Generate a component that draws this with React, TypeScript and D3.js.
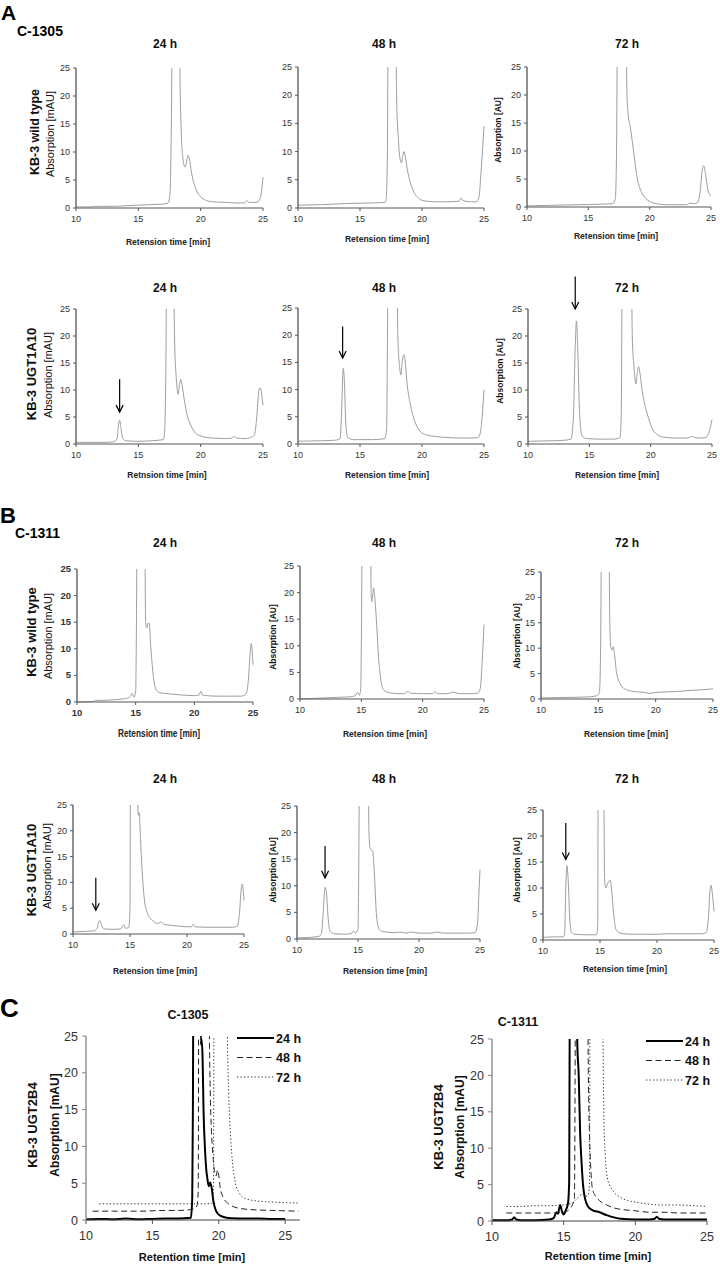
import React from 'react';
import * as d3 from 'd3';

type Pt = [number, number];

// ---------- Data: retention time [min], absorption ----------
const aWt24: Pt[] = [[10,0.2],[11,0.2],[12,0.3],[13,0.3],[14,0.4],[15,0.5],[16,0.6],[17,0.7],[17.4,0.9],[17.55,3],[17.65,15],[17.75,40],[18.25,40],[18.35,22],[18.45,13],[18.6,8.5],[18.75,7.3],[18.9,8.6],[19.0,9.4],[19.1,8.8],[19.25,6.5],[19.45,4.5],[19.7,3],[20,2],[20.4,1.4],[21,1.1],[22,1.0],[23,0.9],[23.5,0.9],[23.7,1.3],[23.9,1.0],[24.5,1.0],[24.7,1.4],[24.85,2.5],[25,5.5]];
const aWt48: Pt[] = [[10,0.5],[12,0.6],[14,0.8],[16,0.9],[17,1.0],[17.1,1.5],[17.2,8],[17.3,40],[17.85,40],[17.95,20],[18.1,12],[18.25,8.5],[18.35,8.0],[18.45,9.3],[18.55,10],[18.65,9.2],[18.8,7],[19.0,5],[19.3,3],[19.7,1.8],[20.1,1.3],[21,1.1],[22,1.1],[23,1.2],[23.15,1.8],[23.3,1.3],[24,1.1],[24.4,1.1],[24.6,2],[24.75,6],[24.9,11],[25,14.5]];
const aWt72: Pt[] = [[10,0.2],[12,0.3],[14,0.4],[16,0.5],[17.0,0.6],[17.2,1.5],[17.3,10],[17.4,40],[18.05,40],[18.15,20],[18.25,16.5],[18.4,14.5],[18.6,11.5],[18.8,8],[19.0,5],[19.3,2.8],[19.7,1.5],[20.2,0.8],[20.8,0.5],[21.5,0.4],[23,0.4],[23.3,0.7],[23.6,0.6],[23.9,0.8],[24.1,2.5],[24.3,6.8],[24.4,7.4],[24.55,6],[24.75,3],[25,2]];
const aUgt24: Pt[] = [[10,0.3],[12,0.3],[13,0.4],[13.3,1],[13.4,3.5],[13.5,4.4],[13.6,3],[13.75,1],[14,0.6],[15,0.5],[16,0.6],[17,0.8],[17.1,2],[17.2,12],[17.3,40],[17.8,40],[17.9,20],[18.05,12],[18.2,9.2],[18.3,11],[18.4,12],[18.5,11],[18.7,8],[18.9,5.5],[19.2,3.5],[19.6,2],[20,1.5],[20.5,1.2],[21,1.1],[22,1.0],[22.5,1.1],[22.7,1.4],[22.9,1.1],[23.5,1.0],[24,1.2],[24.3,1.6],[24.5,5],[24.65,9.5],[24.75,10.4],[24.85,10],[24.95,8],[25,7.2]];
const aUgt48: Pt[] = [[10,0.5],[12,0.6],[13,0.7],[13.4,1],[13.5,5],[13.6,12],[13.65,13.9],[13.75,11],[13.85,4],[14,1.2],[14.5,0.8],[16,0.8],[17,1.0],[17.15,3],[17.2,15],[17.3,40],[17.95,40],[18.05,20],[18.2,14],[18.3,12.7],[18.4,15],[18.55,16.4],[18.65,15],[18.8,11],[19.0,8],[19.3,5],[19.7,2.8],[20.2,1.8],[21,1.4],[22,1.2],[23,1.1],[24,1.1],[24.5,1.2],[24.7,2],[24.85,5],[25,10]];
const aUgt72: Pt[] = [[10,0.5],[12,0.6],[13,0.7],[13.5,0.9],[13.7,5],[13.85,18],[13.95,22.8],[14.05,18],[14.2,6],[14.4,1.5],[14.8,1.0],[16,0.9],[17,0.9],[17.5,1.2],[17.6,5],[17.7,40],[18.4,40],[18.5,20],[18.65,14],[18.8,11.1],[18.9,13],[19.0,14.3],[19.1,13.5],[19.3,10],[19.5,7.5],[19.8,5],[20.1,3],[20.5,1.8],[21,1.3],[22,1.1],[23,1.1],[23.4,1.4],[23.6,1.2],[24,1.1],[24.5,1.2],[24.8,2.5],[25,4.5]];
const bWt24: Pt[] = [[10,0],[11.4,0.1],[11.6,0.3],[12,0.3],[13,0.4],[14,0.6],[14.5,0.9],[14.7,1.6],[14.85,0.9],[15.0,2],[15.05,10],[15.15,40],[15.75,40],[15.85,15],[15.95,13.9],[16.05,14.8],[16.15,14.8],[16.3,10],[16.5,5],[16.7,2.5],[17,1.8],[17.5,1.6],[18,1.5],[19,1.3],[20,1.2],[20.4,1.3],[20.55,2],[20.7,1.3],[21,1.2],[22,1.1],[23,1.1],[24,1.1],[24.4,1.5],[24.6,4],[24.75,9],[24.85,11],[24.95,9],[25,7]];
const bWt48: Pt[] = [[10,0],[11,0.1],[12,0.2],[13,0.3],[14,0.4],[14.5,0.6],[14.7,1.2],[14.85,0.7],[14.95,2],[15.0,10],[15.1,40],[15.7,40],[15.8,20],[15.85,18.3],[15.95,20],[16.0,20.9],[16.1,19],[16.25,14],[16.4,8],[16.6,3.5],[16.8,1.8],[17.2,1.2],[18,1.0],[18.5,1.0],[18.8,1.4],[19.0,1.1],[20,1.0],[20.8,1.0],[21.0,1.4],[21.2,1.0],[22,1.0],[22.5,1.3],[23,1.0],[24,1.0],[24.5,1.1],[24.7,2],[24.85,7],[25,14]];
const bWt72: Pt[] = [[10,0.2],[12,0.3],[14,0.4],[14.8,0.6],[15.0,0.9],[15.1,1.5],[15.2,10],[15.3,40],[15.9,40],[16.0,15],[16.1,10],[16.2,9.6],[16.3,10.3],[16.4,9],[16.6,5],[16.9,3],[17.3,2],[18,1.5],[19,1.3],[19.5,1.1],[20,1.3],[21,1.4],[22,1.5],[23,1.7],[24,1.8],[25,2.0]];
const bUgt24: Pt[] = [[10,0.4],[11,0.5],[11.8,0.6],[12.1,1],[12.25,2.3],[12.35,2.6],[12.5,1.8],[12.7,1.0],[13.5,0.9],[14.2,1.0],[14.45,1.8],[14.6,1.1],[14.9,1.3],[15.0,5],[15.05,40],[15.6,40],[15.7,24],[15.75,23],[15.8,23.5],[15.95,17],[16.1,11],[16.3,6],[16.5,4.2],[16.7,3.2],[17,2.6],[17.4,2.0],[17.7,2.3],[18,1.9],[19,1.6],[20,1.4],[20.4,1.4],[20.55,1.9],[20.7,1.4],[22,1.3],[23,1.3],[24,1.3],[24.4,1.5],[24.6,4],[24.75,8.5],[24.85,9.7],[24.95,8],[25,6.5]];
const bUgt48: Pt[] = [[10,0.2],[11,0.3],[11.8,0.5],[12.0,1],[12.15,5],[12.3,9.7],[12.4,9],[12.55,4],[12.7,1.5],[13,1.0],[14,0.9],[14.5,1.1],[14.65,1.5],[14.8,1.1],[15.0,2],[15.05,10],[15.15,40],[15.8,40],[15.9,20],[16.0,17],[16.2,16.5],[16.35,12],[16.5,5],[16.7,2],[17,1.4],[18,1.2],[18.5,1.3],[19,1.1],[19.3,1.3],[20,1.1],[21,1.1],[21.5,1.3],[22,1.1],[24,1.1],[24.6,1.2],[24.8,3],[24.9,8],[25,13]];
const bUgt72: Pt[] = [[10,0.5],[11,0.6],[11.8,0.6],[11.9,1.5],[12.0,10],[12.1,14.3],[12.2,12],[12.35,4],[12.5,1.5],[12.8,1.1],[14,1.0],[14.7,1.0],[14.8,3],[14.85,40],[15.3,40],[15.4,12],[15.5,10],[15.7,11],[15.9,11.5],[16.0,10],[16.2,5],[16.4,2],[16.7,1.4],[17,1.2],[18,1.1],[19,1.1],[20,1.1],[21,1.2],[22,1.2],[23,1.2],[24,1.2],[24.3,1.4],[24.5,4],[24.65,9.5],[24.75,10.5],[24.85,9],[25,5.5]];

const c1305h24: Pt[] = [[10,0.1],[11,0.15],[12,0.1],[13,0.2],[14,0.1],[15,0.15],[16,0.2],[17,0.2],[17.9,0.3],[18.0,3],[18.05,15],[18.1,40],[18.6,40],[18.65,23.8],[18.7,24.6],[18.78,22],[18.85,15],[18.95,10],[19.05,7],[19.15,5.5],[19.25,4.6],[19.35,5.1],[19.45,4.5],[19.6,2.5],[19.8,1.2],[20.1,0.6],[20.5,0.35],[21,0.25],[22,0.2],[23,0.2],[24,0.15],[25,0.15]];
const c1305h48: Pt[] = [[10.5,1.2],[12,1.2],[14,1.2],[16,1.3],[17,1.3],[17.8,1.4],[18.2,1.6],[18.35,1.9],[18.45,4],[18.5,40],[19.25,40],[19.3,24],[19.35,18],[19.45,12],[19.55,9],[19.65,7],[19.8,6],[19.9,6.8],[20.0,6],[20.1,4.5],[20.3,3.2],[20.6,2.4],[21,1.9],[21.5,1.6],[22.5,1.4],[24,1.3],[26,1.2]];
const c1305h72: Pt[] = [[11,2.2],[13,2.2],[15,2.2],[17,2.2],[18,2.2],[19,2.2],[19.5,2.3],[19.6,4],[19.65,40],[20.6,40],[20.65,25],[20.75,17],[20.9,11],[21.05,7.5],[21.25,5],[21.5,3.8],[21.8,3.1],[22.2,2.8],[22.8,2.6],[23.5,2.5],[24.5,2.4],[26,2.3]];
const c1311h24: Pt[] = [[10,0.1],[11,0.1],[11.4,0.2],[11.55,0.5],[11.7,0.2],[12,0.1],[13,0.1],[14,0.2],[14.3,0.4],[14.5,1.2],[14.6,1.0],[14.75,2.2],[14.9,1.2],[15.0,0.9],[15.15,1.5],[15.3,2.4],[15.38,5],[15.45,40],[15.9,40],[15.95,24.5],[16.05,20],[16.15,12],[16.25,8],[16.35,5],[16.5,3],[16.7,2],[17,1.5],[17.5,1.2],[18,0.8],[18.5,0.5],[19,0.3],[20,0.2],[21,0.2],[21.35,0.3],[21.5,0.6],[21.65,0.3],[22,0.2],[23,0.2],[24,0.2],[25,0.2]];
const c1311h48: Pt[] = [[11,1.1],[12,1.1],[13,1.1],[14,1.1],[15,1.2],[15.4,1.6],[15.6,2.2],[15.75,3],[15.85,40],[16.65,40],[16.72,20],[16.8,12],[16.9,7],[17.0,4.5],[17.2,3.5],[17.5,2.8],[18,2.2],[18.5,1.8],[19,1.6],[20,1.4],[21,1.2],[22,1.2],[23,1.1],[25,1.1]];
const c1311h72: Pt[] = [[11,2.0],[12,2.0],[13,2.1],[14,2.1],[15,2.2],[15.6,2.5],[16.0,3.2],[16.3,3.7],[16.5,3.4],[16.7,3.5],[16.8,5],[16.85,40],[17.7,40],[17.75,24.3],[17.8,15],[17.9,9],[18.0,6.5],[18.2,5],[18.5,4],[19,3.2],[19.5,2.8],[20,2.6],[21,2.3],[22,2.2],[23,2.2],[24,2.1],[25,2.0]];

const yTickValues = [0, 5, 10, 15, 20, 25];
const xTickValues = [10, 15, 20, 25];
const timeLabels = ['24 h', '48 h', '72 h'];

const FONT = "'Liberation Sans', Arial, Helvetica, sans-serif";

type Arrow = { t: number; top: number; tip: number };
type Cfg = {
  data: Pt[]; x0: number; x1: number; yB: number; yT: number;
  title: string; tx: number; ty: number;
  xl: string; xlx: number; xly: number; xlCompress?: number;
  bold?: boolean; arrow?: Arrow;
  yl?: { text: string; x: number; y: number; size: number; bold: boolean }[];
};

const panels: Cfg[] = [
  { data: aWt24, x0: 76, x1: 263, yB: 208, yT: 68, title: timeLabels[0], tx: 165, ty: 48, xl: 'Retension time [min]', xlx: 168, xly: 245,
    yl: [{ text: 'KB-3 wild type', x: 35, y: 132, size: 12.5, bold: true }, { text: 'Absorption [mAU]', x: 50, y: 134, size: 11, bold: false }] },
  { data: aWt48, x0: 298, x1: 484, yB: 208, yT: 67, title: timeLabels[1], tx: 384, ty: 48, xl: 'Retension time [min]', xlx: 387, xly: 242 },
  { data: aWt72, x0: 527, x1: 711, yB: 207, yT: 67, title: timeLabels[2], tx: 627, ty: 48, xl: 'Retension time [min]', xlx: 616, xly: 239,
    yl: [{ text: 'Absorption [AU]', x: 498, y: 130, size: 8.5, bold: true }] },
  { data: aUgt24, x0: 76, x1: 263, yB: 444, yT: 309, title: timeLabels[0], tx: 165, ty: 292, xl: 'Retnsion time [min]', xlx: 167, xly: 478,
    arrow: { t: 13.5, top: 12, tip: 5.9 },
    yl: [{ text: 'KB-3  UGT1A10', x: 31, y: 374, size: 13, bold: true }, { text: 'Absorption [mAU]', x: 48, y: 375, size: 11, bold: false }] },
  { data: aUgt48, x0: 298, x1: 484, yB: 444, yT: 308, title: timeLabels[1], tx: 384, ty: 292, xl: 'Retension time [min]', xlx: 387, xly: 478,
    arrow: { t: 13.6, top: 21.6, tip: 15.8 } },
  { data: aUgt72, x0: 528, x1: 712, yB: 444, yT: 309, title: timeLabels[2], tx: 627, ty: 292, xl: 'Retension time [min]', xlx: 617, xly: 478,
    arrow: { t: 13.85, top: 31, tip: 25 },
    yl: [{ text: 'Absorption [AU]', x: 500, y: 371, size: 8.5, bold: true }] },
  { data: bWt24, x0: 77, x1: 253, yB: 702, yT: 569, title: timeLabels[0], tx: 165, ty: 547, xl: 'Retension time [min]', xlx: 159, xly: 737, xlCompress: 82, bold: true,
    yl: [{ text: 'KB-3 wild type', x: 31, y: 632, size: 13, bold: true }, { text: 'Absorption [mAU]', x: 48, y: 636, size: 11, bold: false }] },
  { data: bWt48, x0: 300, x1: 484, yB: 699, yT: 566, title: timeLabels[1], tx: 384, ty: 547, xl: 'Retension time [min]', xlx: 385, xly: 737,
    yl: [{ text: 'Absorption [AU]', x: 273, y: 637, size: 8.5, bold: true }] },
  { data: bWt72, x0: 541, x1: 713, yB: 699, yT: 572, title: timeLabels[2], tx: 627, ty: 547, xl: 'Retension time [min]', xlx: 626, xly: 737,
    yl: [{ text: 'Absorption [AU]', x: 517, y: 636, size: 8.5, bold: true }] },
  { data: bUgt24, x0: 73, x1: 244, yB: 934, yT: 805, title: timeLabels[0], tx: 165, ty: 783, xl: 'Retension time [min]', xlx: 155, xly: 974,
    arrow: { t: 12.0, top: 10.9, tip: 4.6 },
    yl: [{ text: 'KB-3  UGT1A10', x: 31, y: 870, size: 13, bold: true }, { text: 'Absorption [mAU]', x: 47, y: 866, size: 11, bold: false }] },
  { data: bUgt48, x0: 297, x1: 480, yB: 939, yT: 806, title: timeLabels[1], tx: 384, ty: 783, xl: 'Retension time [min]', xlx: 385, xly: 974,
    arrow: { t: 12.3, top: 17.5, tip: 11.5 },
    yl: [{ text: 'Absorption [AU]', x: 273, y: 870, size: 8.5, bold: true }] },
  { data: bUgt72, x0: 543, x1: 714, yB: 940, yT: 810, title: timeLabels[2], tx: 627, ty: 783, xl: 'Retension time [min]', xlx: 625, xly: 972,
    arrow: { t: 12.0, top: 22.5, tip: 15.5 },
    yl: [{ text: 'Absorption [AU]', x: 517, y: 870, size: 8.5, bold: true }] },
];

function Panel({ c, id }: { c: Cfg; id: string }) {
  const x = d3.scaleLinear().domain([10, 25]).range([c.x0, c.x1]);
  const y = d3.scaleLinear().domain([0, 25]).range([c.yB, c.yT]);
  const line = d3.line<Pt>().x(d => x(d[0])).y(d => y(d[1])).curve(d3.curveMonotoneX);
  const fw = c.bold ? 'bold' : 'normal';
  return (
    <g fontFamily={FONT}>
      <defs>
        <clipPath id={id}>
          <rect x={c.x0} y={c.yT} width={c.x1 - c.x0 + 3} height={c.yB - c.yT + 3} />
        </clipPath>
      </defs>
      <text x={c.tx} y={c.ty} textAnchor="middle" fontSize={12} fontWeight="bold" fill="#111">{c.title}</text>
      <path d={line(c.data) || ''} fill="none" stroke="#9e9e9e" strokeWidth={1} clipPath={`url(#${id})`} />
      <line x1={c.x0} x2={c.x0} y1={c.yT} y2={c.yB} stroke="#555" strokeWidth={1.3} />
      <line x1={c.x0} x2={c.x1} y1={c.yB} y2={c.yB} stroke="#555" strokeWidth={1.2} />
      {yTickValues.map(v => (
        <g key={'y' + v}>
          <line x1={c.x0 - 3} x2={c.x0} y1={y(v)} y2={y(v)} stroke="#555" />
          <text x={c.x0 - 6} y={y(v) + 3} textAnchor="end" fontSize={c.bold ? 9.5 : 9} fontWeight={fw} fill="#333">{v}</text>
        </g>
      ))}
      {xTickValues.map(v => (
        <g key={'x' + v}>
          <line x1={x(v)} x2={x(v)} y1={c.yB} y2={c.yB + 3} stroke="#555" />
          <text x={x(v)} y={c.yB + 14} textAnchor="middle" fontSize={c.bold ? 9.5 : 9} fontWeight={fw} fill="#333">{v}</text>
        </g>
      ))}
      {c.xlCompress ? (
        <text x={c.xlx - c.xlCompress / 2} y={c.xly} fontSize={10} fontWeight="bold" fill="#222" textLength={c.xlCompress} lengthAdjust="spacingAndGlyphs">{c.xl}</text>
      ) : (
        <text x={c.xlx} y={c.xly} textAnchor="middle" fontSize={8.5} fontWeight="bold" fill="#222">{c.xl}</text>
      )}
      {(c.yl || []).map((l, i) => (
        <text key={i} transform={`translate(${l.x},${l.y}) rotate(-90)`} textAnchor="middle" dominantBaseline="central"
          fontSize={l.size} fontWeight={l.bold ? 'bold' : 'normal'} fill="#111">{l.text}</text>
      ))}
      {c.arrow && (
        <g stroke="#000" strokeWidth={1.2} fill="none">
          <line x1={x(c.arrow.t)} x2={x(c.arrow.t)} y1={y(c.arrow.top)} y2={y(c.arrow.tip)} />
          <polyline points={`${x(c.arrow.t) - 3.5},${y(c.arrow.tip) - 7} ${x(c.arrow.t)},${y(c.arrow.tip)} ${x(c.arrow.t) + 3.5},${y(c.arrow.tip) - 7}`} />
        </g>
      )}
    </g>
  );
}

type CCfg = {
  series: Pt[][]; xMax: number; x0: number; x1: number; yB: number; yT: number;
  title: string; tx: number; ty: number; xlx: number; xly: number;
  ylx1: number; ylx2: number; yly: number; legX: number; legY: number;
};

const seriesStyles = [
  { stroke: '#000', width: 2, dash: '' },
  { stroke: '#222', width: 1, dash: '6,3.5' },
  { stroke: '#333', width: 1, dash: '1.3,2.2' },
];

const cPanels: CCfg[] = [
  { series: [c1305h24, c1305h48, c1305h72], xMax: 26.1, x0: 86, x1: 299.8, yB: 1220, yT: 1036, title: 'C-1305', tx: 188, ty: 1019,
    xlx: 192, xly: 1261, ylx1: 32, ylx2: 55, yly: 1125, legX: 237, legY: 1038 },
  { series: [c1311h24, c1311h48, c1311h72], xMax: 25, x0: 492, x1: 707, yB: 1221, yT: 1039, title: 'C-1311', tx: 518, ty: 1026,
    xlx: 598, xly: 1260, ylx1: 438, ylx2: 460, yly: 1127, legX: 646, legY: 1041 },
];

function CPanel({ c, id }: { c: CCfg; id: string }) {
  const x = d3.scaleLinear().domain([10, c.xMax]).range([c.x0, c.x1]);
  const y = d3.scaleLinear().domain([0, 25]).range([c.yB, c.yT]);
  const line = d3.line<Pt>().x(d => x(d[0])).y(d => y(d[1])).curve(d3.curveMonotoneX);
  return (
    <g fontFamily={FONT}>
      <defs>
        <clipPath id={id}>
          <rect x={c.x0} y={c.yT} width={c.x1 - c.x0 + 3} height={c.yB - c.yT + 3} />
        </clipPath>
      </defs>
      <text x={c.tx} y={c.ty} textAnchor="middle" fontSize={12.5} fontWeight="bold" fill="#111">{c.title}</text>
      {c.series.map((s, i) => (
        <path key={i} d={line(s) || ''} fill="none" stroke={seriesStyles[i].stroke} strokeWidth={seriesStyles[i].width}
          strokeDasharray={seriesStyles[i].dash} clipPath={`url(#${id})`} />
      ))}
      <line x1={c.x0} x2={c.x0} y1={c.yT} y2={c.yB} stroke="#999" strokeWidth={1.6} />
      <line x1={c.x0} x2={c.x1} y1={c.yB} y2={c.yB} stroke="#444" strokeWidth={1.2} />
      {yTickValues.map(v => (
        <g key={'y' + v}>
          <line x1={c.x0 - 4} x2={c.x0} y1={y(v)} y2={y(v)} stroke="#888" />
          <text x={c.x0 - 8} y={y(v) + 4.5} textAnchor="end" fontSize={12.5} fill="#333">{v}</text>
        </g>
      ))}
      {xTickValues.map(v => (
        <g key={'x' + v}>
          <line x1={x(v)} x2={x(v)} y1={c.yB} y2={c.yB + 4} stroke="#555" />
          <text x={x(v)} y={c.yB + 20} textAnchor="middle" fontSize={12.5} fill="#333">{v}</text>
        </g>
      ))}
      <text x={c.xlx} y={c.xly} textAnchor="middle" fontSize={11} fontWeight="bold" fill="#111">Retention time [min]</text>
      <text transform={`translate(${c.ylx1},${c.yly}) rotate(-90)`} textAnchor="middle" dominantBaseline="central" fontSize={13} fontWeight="bold" fill="#111">KB-3 UGT2B4</text>
      <text transform={`translate(${c.ylx2},${c.yly}) rotate(-90)`} textAnchor="middle" dominantBaseline="central" fontSize={12} fontWeight="bold" fill="#111">Absorption [mAU]</text>
      {timeLabels.map((t, i) => (
        <g key={t}>
          <line x1={c.legX} x2={c.legX + 37} y1={c.legY + i * 19.5} y2={c.legY + i * 19.5}
            stroke={seriesStyles[i].stroke} strokeWidth={seriesStyles[i].width} strokeDasharray={seriesStyles[i].dash} />
          <text x={c.legX + 39} y={c.legY + i * 19.5 + 4.5} fontSize={12.5} fontWeight="bold" fill="#111">{t}</text>
        </g>
      ))}
    </g>
  );
}

export default function App() {
  return (
    <svg width={720} height={1264} style={{ position: 'absolute', left: 0, top: 0, background: '#fff' }}>
      <rect width={720} height={1264} fill="#fff" />
      <g fontFamily={FONT} fontWeight="bold" fill="#000">
        <text x={1} y={20} fontSize={21}>A</text>
        <text x={17} y={36} fontSize={14}>C-1305</text>
        <text x={0} y={523} fontSize={22}>B</text>
        <text x={15} y={538} fontSize={14}>C-1311</text>
        <text x={0} y={1017} fontSize={26}>C</text>
      </g>
      {panels.map((p, i) => <Panel key={i} c={p} id={`clipP${i}`} />)}
      {cPanels.map((p, i) => <CPanel key={'c' + i} c={p} id={`clipC${i}`} />)}
    </svg>
  );
}
